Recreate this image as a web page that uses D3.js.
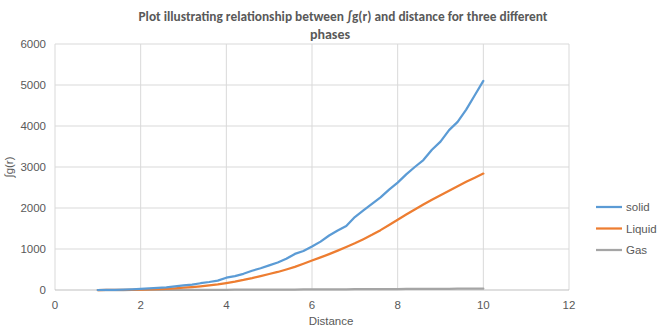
<!DOCTYPE html>
<html>
<head>
<meta charset="utf-8">
<script src="https://cdn.jsdelivr.net/npm/d3@7"></script>
<style>
  body { margin: 0; background: #fff; }
  text { font-family: "Liberation Sans", Arial, sans-serif; }
  text.title { font-family: Carlito, Calibri, "Liberation Sans", sans-serif; }
</style>
</head>
<body>
<svg id="chart" width="658" height="329"></svg>
<script>
// distances sampled every 0.2 from 1 to 10
let distance = d3.range(46).map(i => +(1 + i * 0.2).toFixed(1));

let solid = [0, 2, 5, 10, 18, 28, 38, 50, 62, 90,
  110, 130, 165, 195, 230, 300, 340, 395, 470, 530,
  600, 670, 760, 880, 950, 1060, 1180, 1330, 1450, 1560,
  1780, 1940, 2100, 2260, 2450, 2620, 2820, 3000, 3170, 3420,
  3620, 3900, 4100, 4400, 4750, 5100];

let liquid = [0, 1, 2, 4, 6, 10, 15, 21, 29, 40,
  55, 70, 88, 110, 135, 170, 205, 245, 290, 340,
  390, 440, 500, 565, 640, 720, 795, 875, 960, 1050,
  1140, 1240, 1345, 1460, 1585, 1715, 1840, 1965, 2085, 2200,
  2310, 2420, 2530, 2640, 2740, 2840];

let gas = [0, 0, 0, 0, 1, 1, 1, 2, 2, 3,
  3, 4, 4, 5, 5, 6, 7, 7, 8, 9,
  10, 10, 11, 12, 13, 14, 15, 16, 17, 18,
  19, 20, 21, 22, 23, 24, 25, 26, 27, 28,
  29, 30, 31, 32, 33, 35];

let seriesNames = ["solid", "Liquid", "Gas"];
let seriesColors = ["#5b9bd5", "#ed7d31", "#a5a5a5"];
let xTicks = [0, 2, 4, 6, 8, 10, 12];
let yTicks = [0, 1000, 2000, 3000, 4000, 5000, 6000];

let svg = d3.select("#chart");
let x = d3.scaleLinear().domain([0, 12]).range([55, 569]);
let y = d3.scaleLinear().domain([0, 6000]).range([290, 44]);

// gridlines
svg.append("g").selectAll("line").data(yTicks.slice(1)).join("line")
  .attr("x1", x(0)).attr("x2", x(12))
  .attr("y1", d => y(d)).attr("y2", d => y(d))
  .attr("stroke", "#d9d9d9").attr("stroke-width", 1);
svg.append("g").selectAll("line").data(xTicks).join("line")
  .attr("x1", d => x(d)).attr("x2", d => x(d))
  .attr("y1", y(0)).attr("y2", y(6000))
  .attr("stroke", "#d9d9d9").attr("stroke-width", 1);

// axis line
svg.append("line")
  .attr("x1", x(0)).attr("x2", x(12)).attr("y1", y(0)).attr("y2", y(0))
  .attr("stroke", "#bfbfbf").attr("stroke-width", 1);

// tick labels
svg.append("g").selectAll("text").data(yTicks).join("text")
  .attr("x", 46).attr("y", d => y(d) + 4)
  .attr("text-anchor", "end").attr("font-size", 11.5).attr("fill", "#595959")
  .text(d => d);
svg.append("g").selectAll("text").data(xTicks).join("text")
  .attr("x", d => x(d)).attr("y", 309)
  .attr("text-anchor", "middle").attr("font-size", 11.5).attr("fill", "#595959")
  .text(d => d);

// axis titles
svg.append("text").attr("x", 331).attr("y", 325)
  .attr("text-anchor", "middle").attr("font-size", 11.5).attr("fill", "#595959")
  .text("Distance");
svg.append("text").attr("transform", "translate(13,167) rotate(-90)")
  .attr("text-anchor", "middle").attr("font-size", 11.5).attr("fill", "#595959")
  .text("∫g(r)");

// title
let title1 = svg.append("text").attr("class", "title").attr("x", 343).attr("y", 21)
  .attr("text-anchor", "middle").attr("font-size", 14).attr("font-weight", "bold").attr("fill", "#595959")
  .text("Plot illustrating relationship between ∫g(r) and distance for three different");
if (title1.node().getComputedTextLength() > 412) {
  title1.attr("textLength", 409).attr("lengthAdjust", "spacingAndGlyphs");
}
svg.append("text").attr("class", "title").attr("x", 330).attr("y", 39)
  .attr("text-anchor", "middle").attr("font-size", 14).attr("font-weight", "bold").attr("fill", "#595959")
  .text("phases");

// series lines
let allSeries = [solid, liquid, gas];
let line = d3.line().x((d, i) => x(distance[i])).y(d => y(d));
allSeries.slice().reverse().forEach((s, k) => {
  let idx = allSeries.length - 1 - k;
  svg.append("path").datum(s)
    .attr("d", line)
    .attr("fill", "none")
    .attr("stroke", seriesColors[idx])
    .attr("stroke-width", 2.25)
    .attr("stroke-linejoin", "round")
    .attr("stroke-linecap", "round");
});

// legend
let legend = svg.append("g").selectAll("g").data(seriesNames).join("g")
  .attr("transform", (d, i) => `translate(596,${207 + i * 21.5})`);
legend.append("line").attr("x1", 0).attr("x2", 26).attr("y1", 0).attr("y2", 0)
  .attr("stroke", (d, i) => seriesColors[i]).attr("stroke-width", 2.25);
legend.append("text").attr("x", 30).attr("y", 4)
  .attr("font-size", 11.5).attr("fill", "#595959").text(d => d);
</script>
</body>
</html>
